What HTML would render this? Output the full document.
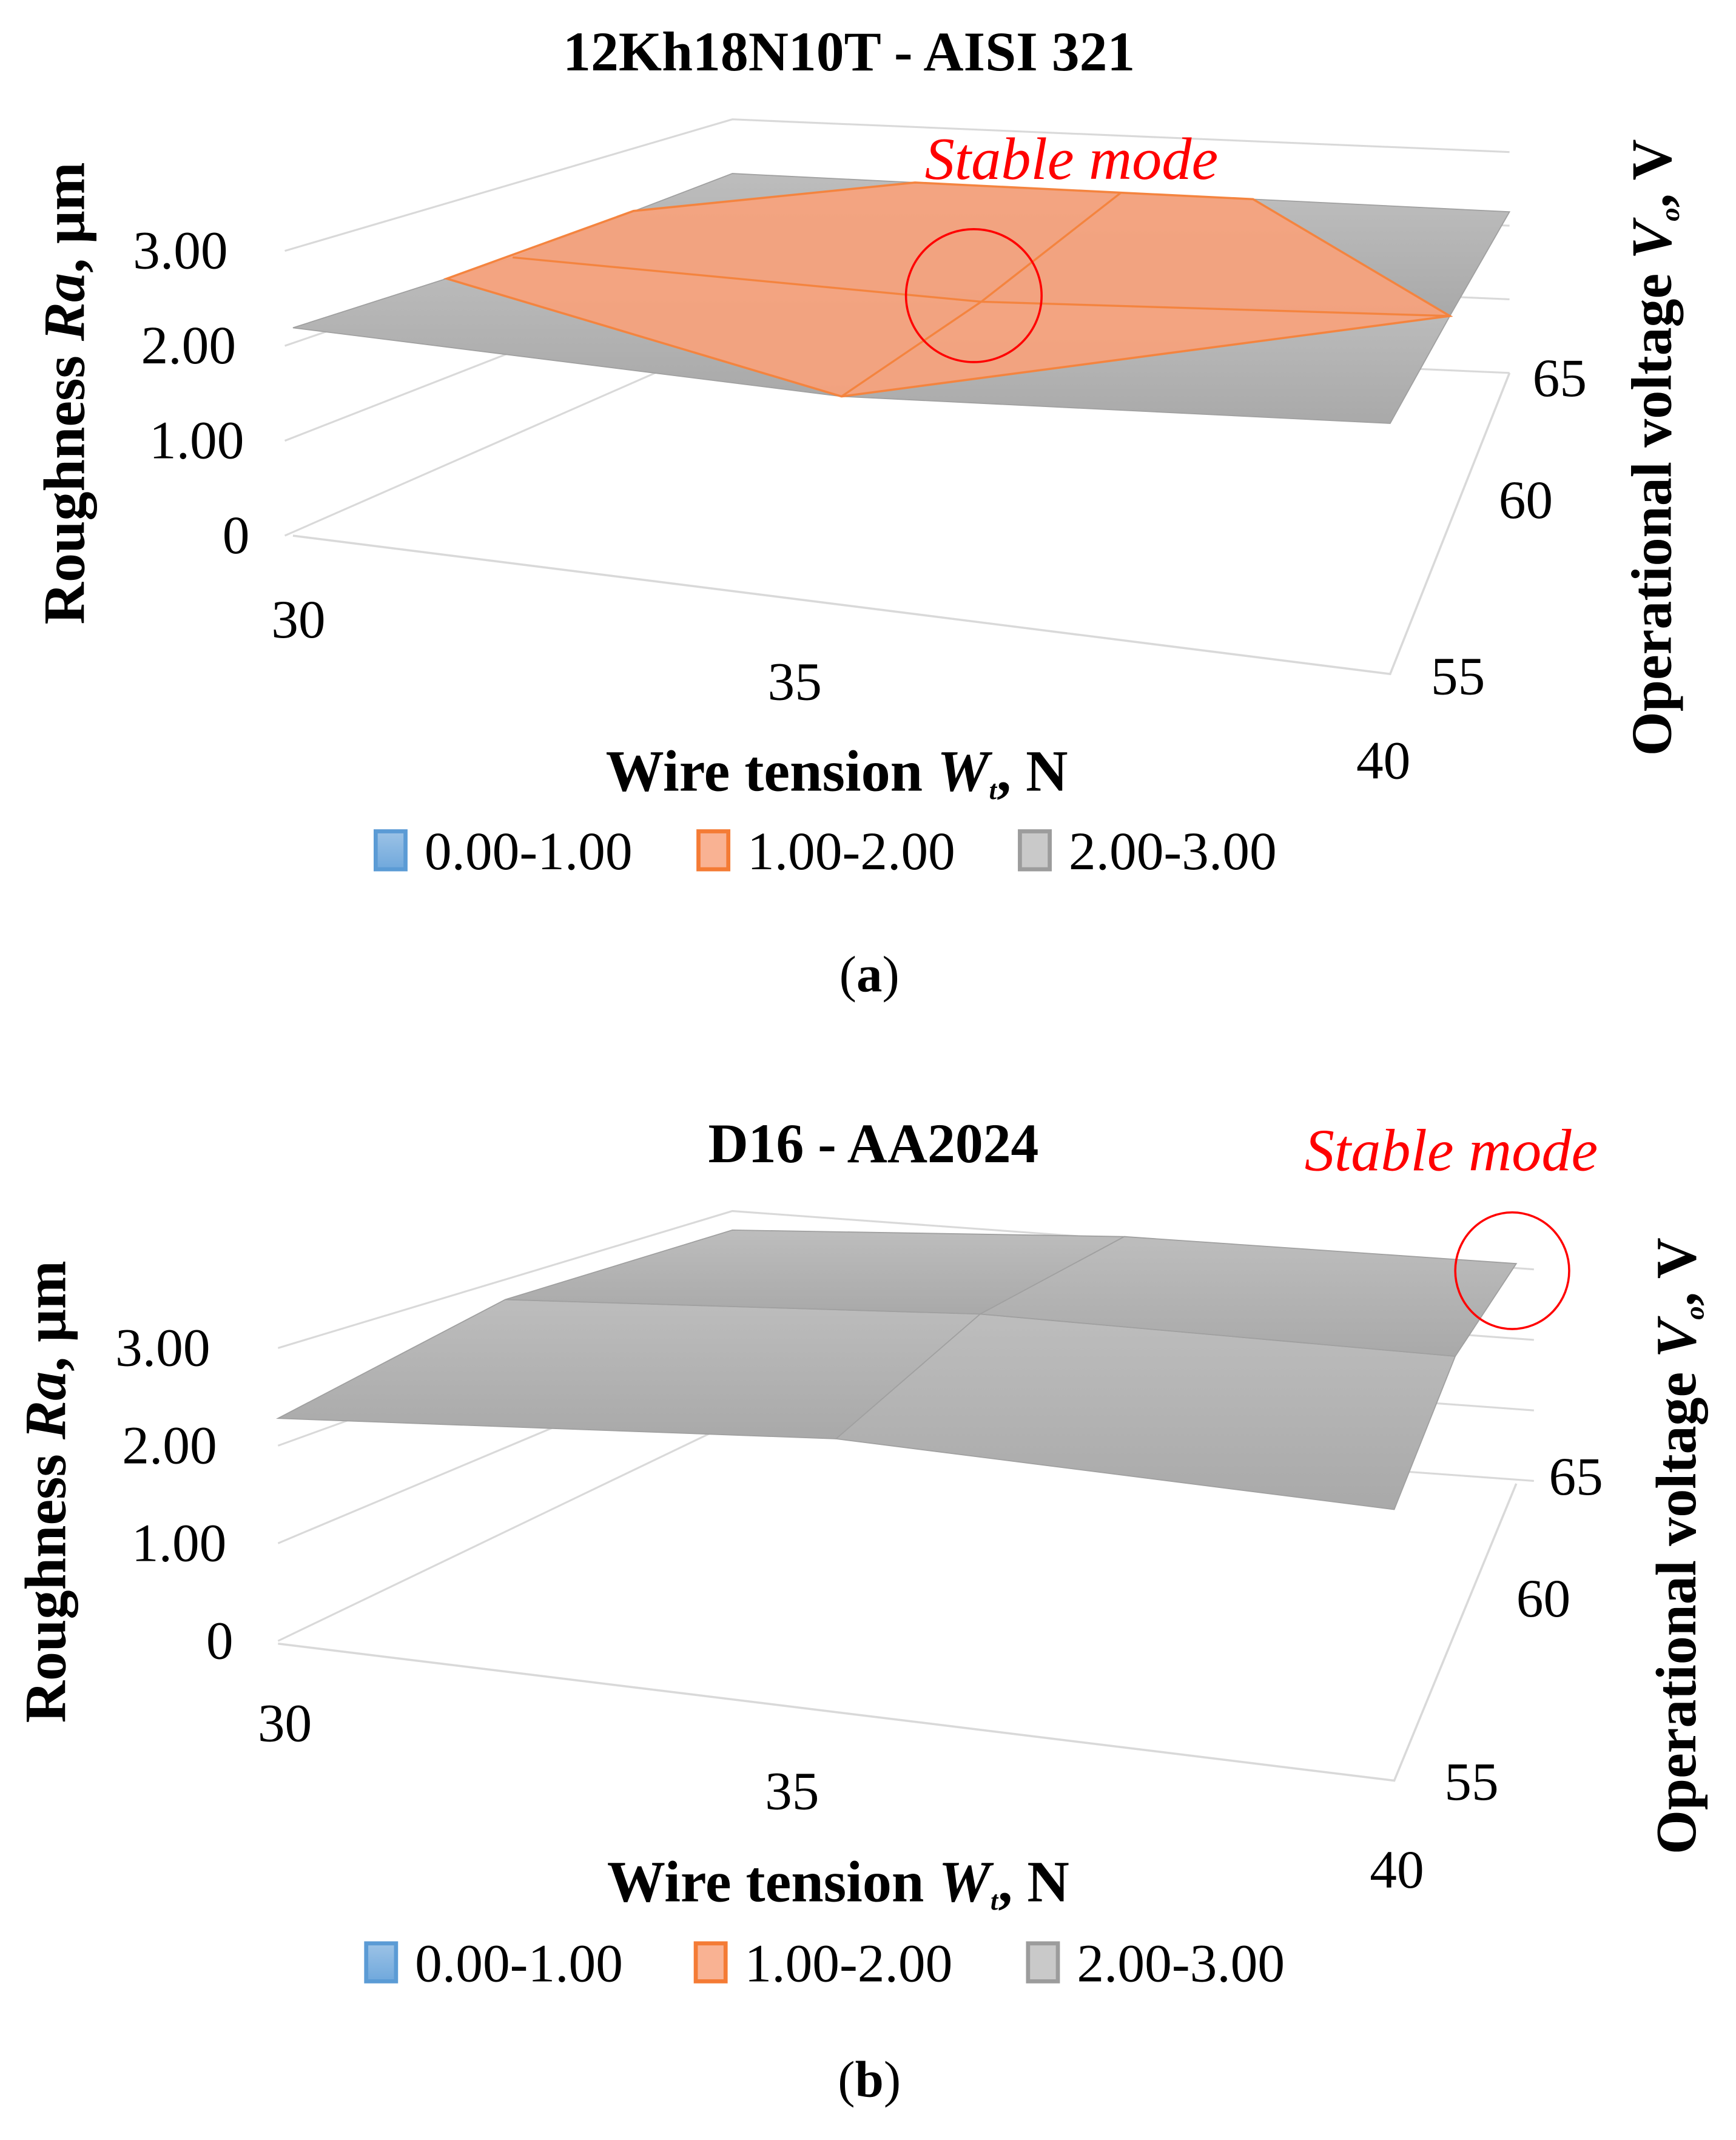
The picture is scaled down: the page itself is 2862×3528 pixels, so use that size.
<!DOCTYPE html>
<html><head><meta charset="utf-8">
<style>
html,body{margin:0;padding:0;background:#fff;}
svg{display:block;}
text{font-family:"Liberation Serif",serif;fill:#000;}
</style></head>
<body>
<svg id="fig" width="2862" height="3528" viewBox="0 0 1280 1578" preserveAspectRatio="none" xmlns="http://www.w3.org/2000/svg">
<defs>
<linearGradient id="gGray" x1="0" y1="0" x2="0" y2="1"><stop offset="0" stop-color="#bdbdbd"/><stop offset="1" stop-color="#a9a9a9"/></linearGradient>
<linearGradient id="lgBlue" x1="0" y1="0" x2="0" y2="1"><stop offset="0" stop-color="#9dc3e6"/><stop offset="1" stop-color="#6fa8dc"/></linearGradient>
</defs>
</svg>
<script>
// ---- data ----
const wCats = [30, 35, 40];            // wire tension, N
const vCats = [55, 60, 65];            // operational voltage, V
const zTicks = [0, 1, 2, 3];
const zTickLabels = ["0", "1.00", "2.00", "3.00"];
const legendLabels = ["0.00-1.00", "1.00-2.00", "2.00-3.00"];
// roughness Ra, rows = V (55,60,65), cols = W (30,35,40)
const zA_v55 = [2.19, 2.26, 2.80];
const zA_v60 = [2.14, 2.16, 2.55];
const zA_v65 = [2.26, 2.23, 2.20];
const zB_v55 = [2.34, 2.90, 2.94];
const zB_v60 = [2.80, 3.26, 3.39];
const zB_v65 = [2.73, 3.07, 3.12];
// 1.00-2.00 band region of chart (a) in (W, V) coordinates
const bandA_W = [30, 30, 32.35, 35, 36.7, 40, 35];
const bandA_V = [58.5, 62.75, 65, 65, 65, 60, 55];

const svg = document.getElementById('fig');
const NS = 'http://www.w3.org/2000/svg';
function mk(tag, attrs, parent){const e=document.createElementNS(NS,tag);for(const k in attrs)e.setAttribute(k,attrs[k]);(parent||svg).appendChild(e);return e;}
function txt(s, x, y, size, opts, parent){const o=Object.assign({x:x,y:y,'font-size':size,'text-anchor':'middle'},opts||{});const t=mk('text',o,parent);t.textContent=s;return t;}

function drawChart(cfg){
  const g = mk('g',{});
  
  
  const Z=[cfg.z55,cfg.z60,cfg.z65];
  const wScale = w => (w - wCats[0])/(wCats[2]-wCats[0]);
  const vScale = v => (v - vCats[0])/(vCats[2]-vCats[0]);
  function floor(u,v){
    const F=cfg.floor;
    const x=(1-u)*(1-v)*F.FL[0]+u*(1-v)*F.FR[0]+(1-u)*v*F.BL[0]+u*v*F.BR[0];
    const y=(1-u)*(1-v)*F.FL[1]+u*(1-v)*F.FR[1]+(1-u)*v*F.BL[1]+u*v*F.BR[1];
    const s=(1-u)*(1-v)*F.s[0]+u*(1-v)*F.s[1]+(1-u)*v*F.s[2]+u*v*F.s[3];
    return [x,y,s];
  }
  function zAt(u,v){
    const a=Math.min(u*2,1.9999), b=Math.min(v*2,1.9999);
    const i=Math.floor(a), j=Math.floor(b), fu=a-i, fv=b-j;
    return (1-fu)*(1-fv)*Z[j][i]+fu*(1-fv)*Z[j][i+1]+(1-fu)*fv*Z[j+1][i]+fu*fv*Z[j+1][i+1];
  }
  function proj(w,v,z){const u=wScale(w),vv=vScale(v);const f=floor(u,vv);const zz=(z===undefined)?zAt(u,vv):z;return [f[0],f[1]-zz*f[2]];}
  const W=cfg.wall;
  zTicks.forEach((t,k)=>{
    const yl=W.leftY0 - t*W.leftS, yc=W.cornerY0 - t*W.cornerS, yr=W.rightY0 - t*W.rightS;
    const l=mk('polyline',{points:`${W.leftX},${yl} ${W.cornerX},${yc} ${W.rightX},${yr}`,fill:'none',stroke:'#d9d9d9','stroke-width':1.4},g);
    
    
    const lb=txt(zTickLabels[k], W.labelX[k], yl+13, 40, {'text-anchor':'end'}, g);
    
    
  });
  const F=cfg.floor;
  const fl=mk('polyline',{points:`${F.FL[0]},${F.FL[1]} ${F.FR[0]},${F.FR[1]} ${F.BR[0]},${F.BR[1]}`,fill:'none',stroke:'#d9d9d9','stroke-width':1.6},g);
  
  
  for(let j=0;j<2;j++)for(let i=0;i<2;i++){
    const p=[proj(wCats[i],vCats[j],Z[j][i]),proj(wCats[i+1],vCats[j],Z[j][i+1]),proj(wCats[i+1],vCats[j+1],Z[j+1][i+1]),proj(wCats[i],vCats[j+1],Z[j+1][i])];
    const c=mk('polygon',{points:p.map(q=>q.join(',')).join(' '),fill:'url(#gGray)',stroke:'#a0a0a0','stroke-width':0.8},g);
    
    
  }
  if(cfg.bandW){
    const pts=cfg.bandW.map((w,k)=>proj(w,cfg.bandV[k]));
    const b=mk('polygon',{points:pts.map(q=>q.join(',')).join(' '),fill:'#f7a27c','fill-opacity':0.92,stroke:'#f4843f','stroke-width':1.6},g);
    
    
    const l1=mk('polyline',{points:[proj(30,60),proj(35,60),proj(40,60)].map(q=>q.join(',')).join(' '),fill:'none',stroke:'#f4843f','stroke-width':1.5},g);
    
    
    const l2=mk('polyline',{points:[proj(35,55),proj(35,60),proj(35,65)].map(q=>q.join(',')).join(' '),fill:'none',stroke:'#f4843f','stroke-width':1.5},g);
    
    
  }
  wCats.forEach((w,k)=>{const t=txt(String(w),cfg.wLab[k][0],cfg.wLab[k][1],40,{},g);
    
    });
  vCats.forEach((v,k)=>{const t=txt(String(v),cfg.vLab[k][0],cfg.vLab[k][1],40,{},g);
    
    });
  const c=mk('ellipse',{cx:cfg.circ[0],cy:cfg.circ[1],rx:cfg.circ[2],ry:cfg.circ[3],fill:'none',stroke:'#ff0000','stroke-width':1.6},g);
  
  
  const sm=txt('Stable mode',cfg.sm[0],cfg.sm[1],44,{'font-style':'italic',fill:'#ff0000',style:'fill:#ff0000'},g);
  
  
  const ti=txt(cfg.title,cfg.titlePos[0],cfg.titlePos[1],41,{'font-weight':'bold'},g);
  
  
  const xt=mk('text',{x:cfg.xt[0],y:cfg.xt[1],'font-size':43,'font-weight':'bold','text-anchor':'middle'},g);
  xt.innerHTML='Wire tension <tspan font-style="italic">W</tspan><tspan font-style="italic" font-size="20" dy="6">t</tspan><tspan dy="-6">, N</tspan>';
  
  
  const yt=mk('text',{x:0,y:0,'font-size':43,'font-weight':'bold','text-anchor':'middle',transform:`translate(${cfg.yt[0]},${cfg.yt[1]}) rotate(-90)`},g);
  yt.innerHTML='Roughness <tspan font-style="italic">Ra</tspan>, μm';
  
  
  const vt=mk('text',{x:0,y:0,'font-size':42,'font-weight':'bold','text-anchor':'middle',transform:`translate(${cfg.vt[0]},${cfg.vt[1]}) rotate(-90)`},g);
  vt.innerHTML='Operational voltage <tspan font-style="italic">V</tspan><tspan font-style="italic" font-size="20" dy="6">o</tspan><tspan dy="-6">, V</tspan>';
  
  
  const cols=[['#5b9bd5','url(#lgBlue)'],['#f47b35','#f9b293'],['#9c9c9c','#c9c9c9']];
  legendLabels.forEach((s,k)=>{
    const x=cfg.leg[k];
    const r=mk('rect',{x:x,y:cfg.legY-14,width:22,height:28,fill:cols[k][1],stroke:cols[k][0],'stroke-width':3},g);
    
    
    const t=txt(s,x+36,cfg.legY+14,40,{'text-anchor':'start'},g);
    
    
  });
  const cap=mk('text',{x:cfg.cap[0],y:cfg.cap[1],'font-size':38,'text-anchor':'middle'},g);
  cap.innerHTML='(<tspan font-weight="bold">'+cfg.capL+'</tspan>)';
  
  
}

drawChart({name:'chart-a',title:'12Kh18N10T - AISI 321',titlePos:[626,52],
  z55:zA_v55,z60:zA_v60,z65:zA_v65,bandW:bandA_W,bandV:bandA_V,
  floor:{FL:[216,395],FR:[1025,497],BL:[540,250],BR:[1113,275],s:[70,66,54,54]},
  wall:{leftX:210,cornerX:540,rightX:1113,leftY0:395,leftS:70,cornerY0:250,cornerS:54,rightY0:275,rightS:54.3,labelX:[184,180,174,168]},
  wLab:[[220,470],[586,516],[1020,574]],vLab:[[1075,512],[1125,382],[1150,292]],
  circ:[718,218,50,49],sm:[790,132],xt:[617,583],yt:[62,290],vt:[1232,330],
  leg:[277,515,752],legY:627,cap:[641,731],capL:'a'});

drawChart({name:'chart-b',title:'D16 - AA2024',titlePos:[644,857],
  z55:zB_v55,z60:zB_v60,z65:zB_v65,
  floor:{FL:[205,1212],FR:[1028,1313],BL:[540,1049],BR:[1118,1094],s:[71,68,52,52]},
  wall:{leftX:205,cornerX:540,rightX:1131,leftY0:1210,leftS:72,cornerY0:1049,cornerS:52,rightY0:1092,rightS:52,labelX:[172,167,160,155]},
  wLab:[[210,1284],[584,1334],[1030,1392]],vLab:[[1085,1327],[1138,1192],[1162,1102]],
  circ:[1115,937,42,43],sm:[1070,863],xt:[618,1402],yt:[48,1100],vt:[1250,1140],
  leg:[270,513,758],legY:1447,cap:[641,1546],capL:'b'});
</script>
</body></html>
